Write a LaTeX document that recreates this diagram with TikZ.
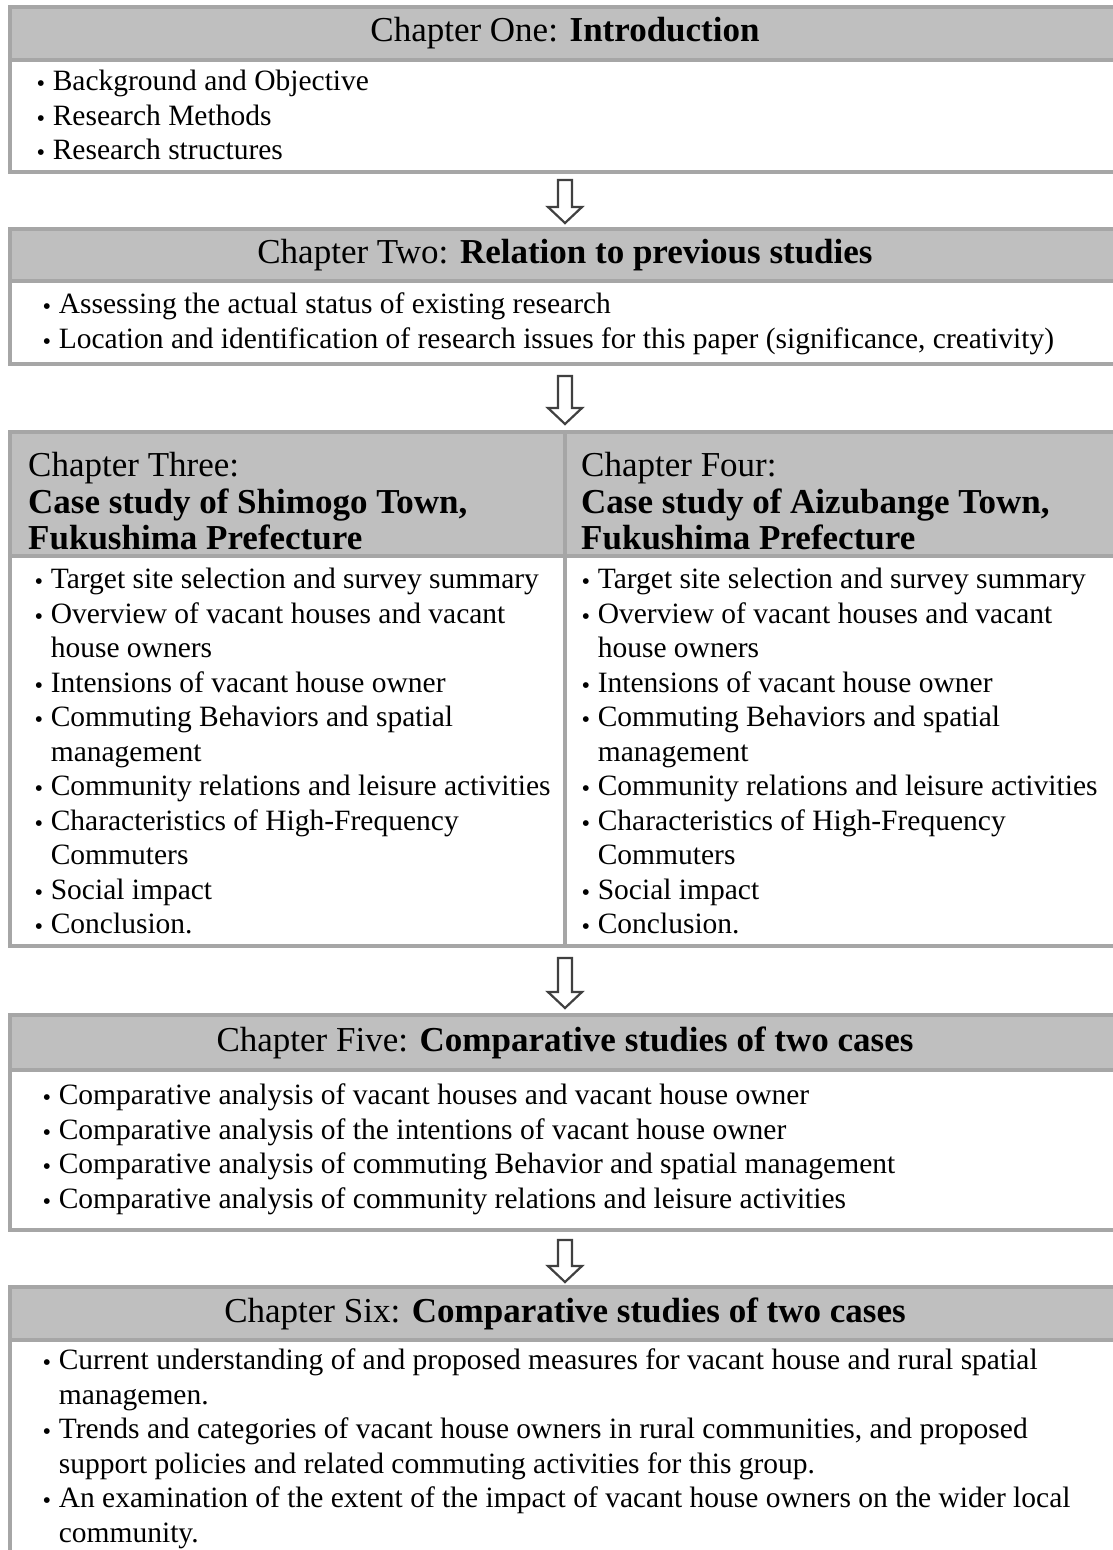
\documentclass[tikz,border=0pt]{standalone}
\usepackage{fontspec}
\setmainfont{Liberation Serif}
\newfontfamily\dotfont{DejaVu Sans}
\usetikzlibrary{calc}

\definecolor{hdrfill}{HTML}{BFBFBF}
\definecolor{rulegray}{HTML}{A6A6A6}
\definecolor{arrowline}{HTML}{404040}

\newcommand\bodyfont{\fontsize{29.5}{34.5}\selectfont}
\newcommand\headfont{\fontsize{35}{36.5}\selectfont}
\newcommand\bul{\makebox[0.8em][c]{\raisebox{5pt}{\dotfont\fontsize{7.5}{7.5}\selectfont ●}}}
\newcommand\cont{\hspace*{0.8em}}

% hollow block arrow between two named points (tail, tip)
\newcommand\flowarrow[2]{%
  \draw[flow] ($(#1)+(-7,0)$) -- ($(#2)+(-7,-16)$) -- ($(#2)+(-17,-16)$)
    -- (#2) -- ($(#2)+(17,-16)$) -- ($(#2)+(7,-16)$) -- ($(#1)+(7,0)$) -- cycle;}

\begin{document}
\begin{tikzpicture}[x=1pt,y=-1pt,
  frame/.style={draw=rulegray, line width=4pt, fill=white, inner sep=0pt,
    outer sep=0pt, anchor=north west, minimum width=1110pt},
  band/.style={draw=rulegray, line width=4pt, fill=hdrfill, inner sep=0pt,
    outer sep=0pt, anchor=north west, minimum width=1110pt},
  divider/.style={draw=rulegray, line width=4pt},
  title/.style={font=\headfont, inner sep=0pt},
  coltitle/.style={font=\headfont, align=left, inner sep=0pt, anchor=north west},
  items/.style={font=\bodyfont, align=left, inner sep=0pt, anchor=north west},
  flow/.style={draw=arrowline, line width=2.2pt, fill=white, line join=miter},
]
\useasboundingbox (0,0) rectangle (1112,1550);

% ---------- Chapter One ----------
\node[frame, minimum height=165pt] (b1) at (10,7) {};
\node[band, minimum height=53pt] (h1) at (10,7) {};
\node[title] (t1) at (h1.center) {Chapter One: \textbf{Introduction}};
\node[items] (l1) at (29,66.4) {\strut\bul Background and Objective\\
  \bul Research Methods\\
  \bul Research structures};

% ---------- Chapter Two ----------
\node[frame, minimum height=135pt] (b2) at (10,229) {};
\node[band, minimum height=52pt] (h2) at (10,229) {};
\node[title] (t2) at (h2.center) {Chapter Two: \textbf{Relation to previous studies}};
\node[items] (l2) at (35,289.4) {\strut\bul Assessing the actual status of existing research\\
  \bul Location and identification of research issues for this paper (significance, creativity)};

% ---------- Chapters Three and Four ----------
\node[frame, minimum height=514pt] (b3) at (10,432) {};
\node[band, minimum height=124pt] (h3) at (10,432) {};
\draw[divider] (b3.north) -- (b3.south);
\node[coltitle] (t3) at (28,451) {\strut Chapter Three:\\
  \textbf{Case study of Shimogo Town,}\\
  \textbf{Fukushima Prefecture}};
\node[coltitle] (t4) at (581,451) {\strut Chapter Four:\\
  \textbf{Case study of Aizubange Town,}\\
  \textbf{Fukushima Prefecture}};
\node[items] (l3) at (27,564.4) {\strut\bul Target site selection and survey summary\\
  \bul Overview of vacant houses and vacant\\
  \cont house owners\\
  \bul Intensions of vacant house owner\\
  \bul Commuting Behaviors and spatial\\
  \cont management\\
  \bul Community relations and leisure activities\\
  \bul Characteristics of High-Frequency\\
  \cont Commuters\\
  \bul Social impact\\
  \bul Conclusion.};
\node[items] (l4) at (574,564.4) {\strut\bul Target site selection and survey summary\\
  \bul Overview of vacant houses and vacant\\
  \cont house owners\\
  \bul Intensions of vacant house owner\\
  \bul Commuting Behaviors and spatial\\
  \cont management\\
  \bul Community relations and leisure activities\\
  \bul Characteristics of High-Frequency\\
  \cont Commuters\\
  \bul Social impact\\
  \bul Conclusion.};

% ---------- Chapter Five ----------
\node[frame, minimum height=215pt] (b5) at (10,1015) {};
\node[band, minimum height=55pt] (h5) at (10,1015) {};
\node[title] (t5) at (h5.center) {Chapter Five: \textbf{Comparative studies of two cases}};
\node[items] (l5) at (35,1080.4) {\strut\bul Comparative analysis of vacant houses and vacant house owner\\
  \bul Comparative analysis of the intentions of vacant house owner\\
  \bul Comparative analysis of commuting Behavior and spatial management\\
  \bul Comparative analysis of community relations and leisure activities};

% ---------- Chapter Six ----------
\node[frame, minimum height=320pt] (b6) at (10,1287) {};
\node[band, minimum height=53pt] (h6) at (10,1287) {};
\node[title] (t6) at (h6.center) {Chapter Six: \textbf{Comparative studies of two cases}};
\node[items] (l6) at (35,1345.6) {\strut\bul Current understanding of and proposed measures for vacant house and rural spatial\\
  \cont managemen.\\
  \bul Trends and categories of vacant house owners in rural communities, and proposed\\
  \cont support policies and related commuting activities for this group.\\
  \bul An examination of the extent of the impact of vacant house owners on the wider local\\
  \cont community.};

% ---------- connecting arrows ----------
\coordinate (a1s) at ($(b1.south)+(0,8)$);
\coordinate (a1e) at ($(b2.north)+(0,-6)$);
\coordinate (a2s) at ($(b2.south)+(0,12)$);
\coordinate (a2e) at ($(b3.north)+(0,-8)$);
\coordinate (a3s) at ($(b3.south)+(0,12)$);
\coordinate (a3e) at ($(b5.north)+(0,-7)$);
\coordinate (a4s) at ($(b5.south)+(0,10)$);
\coordinate (a4e) at ($(b6.north)+(0,-5)$);
\flowarrow{a1s}{a1e}
\flowarrow{a2s}{a2e}
\flowarrow{a3s}{a3e}
\flowarrow{a4s}{a4e}
\end{tikzpicture}
\end{document}
